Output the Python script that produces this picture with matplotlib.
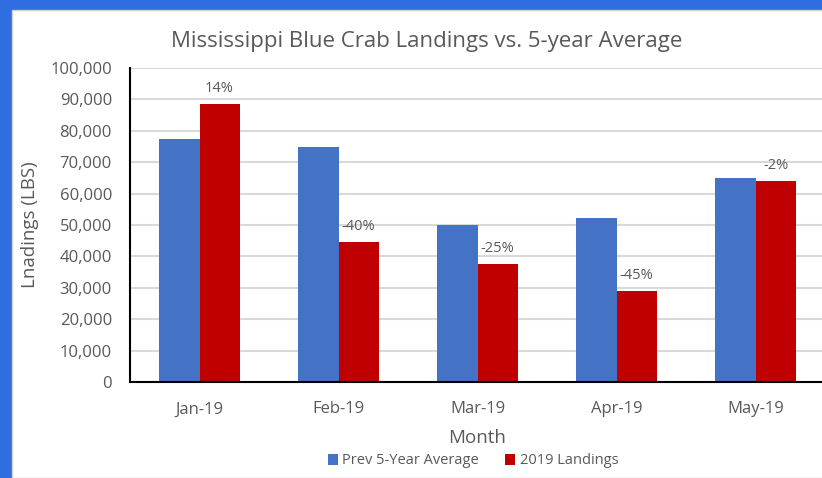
import matplotlib.pyplot as plt
import numpy as np
from matplotlib.patches import Rectangle

months = ["Jan-19", "Feb-19", "Mar-19", "Apr-19", "May-19"]
prev_avg = [77400, 74700, 50100, 52200, 65000]
landings_2019 = [88500, 44500, 37600, 28900, 63900]
pct_labels = ["14%", "-40%", "-25%", "-45%", "-2%"]

BLUE = "#4472C4"
RED = "#C00000"
TXT = "#595959"

plt.rcParams['font.family'] = ['Open Sans', 'DejaVu Sans']

W, H = 822, 478
fig = plt.figure(figsize=(W / 100, H / 100), dpi=100)
fig.patch.set_facecolor("#2f6de0")
# white slide panel
fig.patches.append(Rectangle((12 / W, 0), 1, 1 - 10 / H, transform=fig.transFigure,
                             facecolor="white", edgecolor="#d0d0d0", lw=1, zorder=-5))

ax = fig.add_axes([130 / W, 1 - 382 / H, 695 / W, 314 / H])
ax.set_facecolor("white")

x = np.arange(len(months))
bw = 0.288
ax.bar(x - bw / 2, prev_avg, bw, color=BLUE, label="Prev 5-Year Average", zorder=3)
bars = ax.bar(x + bw / 2, landings_2019, bw, color=RED, label="2019 Landings", zorder=3)

for b, lab in zip(bars, pct_labels):
    ax.annotate(lab, (b.get_x() + b.get_width() / 2, b.get_height()),
                xytext=(0, 6), textcoords="offset points", ha="center", va="bottom",
                fontsize=10.5, color=TXT)

ax.set_xlim(-0.5, 4.5)
ax.set_ylim(0, 100000)
ax.set_yticks(np.arange(0, 100001, 10000))
ax.set_yticklabels([f"{v:,}" for v in range(0, 100001, 10000)])
ax.set_xticks(x)
ax.set_xticklabels(months)
ax.tick_params(axis="both", length=0, colors=TXT, labelsize=12)
ax.tick_params(axis="y", pad=13)
ax.tick_params(axis="x", pad=14)
ax.grid(axis="y", color="#d9d9d9", lw=1.5, zorder=0)
for s in ["top", "right"]:
    ax.spines[s].set_visible(False)
for s in ["left", "bottom"]:
    ax.spines[s].set_color("black")
    ax.spines[s].set_linewidth(1.5)
    ax.spines[s].set_zorder(4)

ax.set_xlabel("Month", fontsize=13.5, color=TXT, labelpad=8)
ax.set_ylabel("Lnadings (LBS)", fontsize=13.5, color=TXT, labelpad=8)

fig.text(427 / W, 1 - 42 / H, "Mississippi Blue Crab Landings vs. 5-year Average",
         ha="center", va="center", fontsize=16, color=TXT)

ax.legend(loc="center", bbox_to_anchor=(473 / W, 1 - 461 / H), bbox_transform=fig.transFigure,
          ncol=2, frameon=False, fontsize=10.5, labelcolor=TXT, handlelength=0.7,
          handleheight=0.7, handletextpad=0.3, columnspacing=1.8)

fig.savefig("out.png", dpi=100, facecolor=fig.get_facecolor())
